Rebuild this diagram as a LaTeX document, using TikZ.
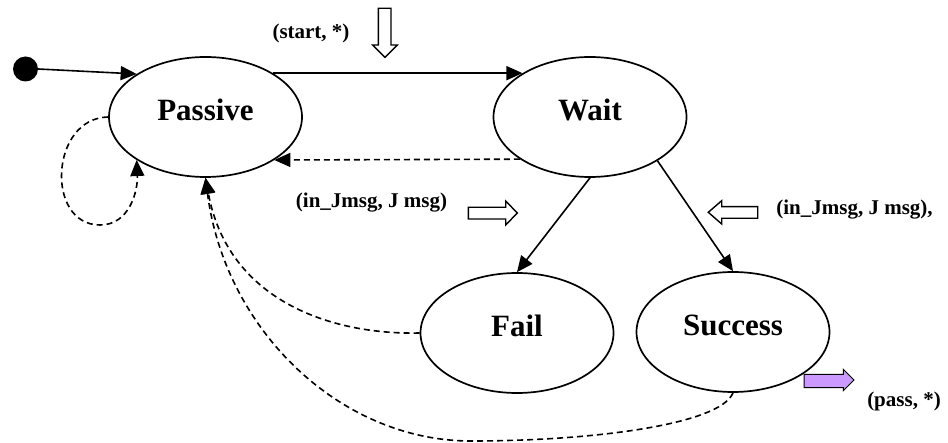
\documentclass[tikz,border=0pt]{standalone}
\usepackage{fontspec}
\setmainfont{Liberation Serif}
\usetikzlibrary{arrows.meta,shapes.geometric}
\definecolor{lilac}{HTML}{CC99FF}
\begin{document}
\begin{tikzpicture}[x=1pt,y=-1pt,
  state/.style={ellipse,draw,line width=1.7pt,minimum width=193pt,minimum height=120pt,inner sep=0pt,
    font=\bfseries\fontsize{31}{36}\selectfont,text height=20pt,text depth=12pt},
  lbl/.style={font=\bfseries\fontsize{21}{25}\selectfont,inner sep=0pt},
  trans/.style={line width=1.6pt,-{Triangle[length=16pt,width=14pt]}},
  back/.style={trans,dash pattern=on 6pt off 4pt},
  blockarrow/.style={draw,line width=1.4pt,fill=white,line join=miter}]
\useasboundingbox (0,0) rectangle (948,443);

% states
\node[state] (passive) at (205.5,117) {Passive};
\node[state] (wait) at (590,117) {Wait};
\node[state] (fail) at (517,333) {Fail};
\node[state] (success) at (733,332) {Success};
\node[circle,fill,inner sep=0pt,minimum size=25pt] (init) at (25.5,69) {};

% transitions
\draw[trans] (init.east) -- (passive.148);
\draw[trans] (passive.33) -- (wait.147);
\draw[back] (wait.211) -- (passive.328);
\draw[trans] (wait.south) -- (fail.north);
\draw[trans] (wait.327) -- (success.north);
\draw[back] (passive.west) .. controls (50,118) and (45,225) .. (100,225)
  .. controls (130,225) and (138,190) .. (passive.212);
\draw[back] (fail.west) .. controls (330,335) and (228,300) .. (passive.south);
\draw[back] (success.south) .. controls (720,425) and (590,441) .. (471,441)
  .. controls (340,441) and (225,330) .. (passive.south);

% block arrows
\draw[blockarrow] (378.3,8.3) -- (391,8.3) -- (391,45) -- (397.3,45) -- (385,57.3)
  -- (372.7,45) -- (378.3,45) -- cycle;
\draw[blockarrow] (468.3,207.3) -- (505.7,207.3) -- (505.7,201) -- (517.3,213)
  -- (505.7,225) -- (505.7,219) -- (468.3,219) -- cycle;
\draw[blockarrow] (757.7,206.7) -- (721.7,206.7) -- (721.7,200.7) -- (708.3,212.3)
  -- (721.7,224) -- (721.7,218.3) -- (757.7,218.3) -- cycle;
\draw[blockarrow,fill=lilac,line width=1pt] (804,374.3) -- (843.3,374.3) -- (843.3,369.3)
  -- (854,380) -- (843.3,390.7) -- (843.3,387.7) -- (804,387.7) -- cycle;

% labels
\node[lbl] (lstart) at (311,33.5) {(start, *)};
\node[lbl] (lin1) at (371.5,203) {(in\_Jmsg, J msg)};
\node[lbl] (lin2) at (854.5,210) {(in\_Jmsg, J msg),};
\node[lbl] (lpass) at (904,401) {(pass, *)};
\end{tikzpicture}
\end{document}
